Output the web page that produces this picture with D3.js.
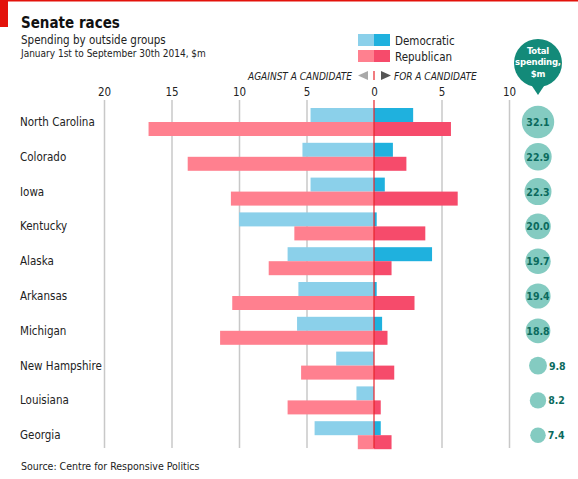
<!DOCTYPE html>
<html>
<head>
<meta charset="utf-8">
<script src="https://cdn.jsdelivr.net/npm/d3@7"></script>
<style>
  body { margin: 0; background: #fff; }
  svg text { font-family: "DejaVu Sans Condensed", "Liberation Sans", sans-serif; }
</style>
</head>
<body>
<div id="chart"></div>
<script>
// values, $m
var states = ['North Carolina', 'Colorado', 'Iowa', 'Kentucky', 'Alaska',
              'Arkansas', 'Michigan', 'New Hampshire', 'Louisiana', 'Georgia'];
var demAgainst = [4.7, 5.3, 4.7, 10.0, 6.4, 5.6, 5.7, 2.8, 1.3, 4.4];
var demFor     = [2.9, 1.4, 0.8, 0.2, 4.3, 0.2, 0.6, 0.0, 0.0, 0.5];
var repAgainst = [16.7, 13.8, 10.6, 5.9, 7.8, 10.5, 11.4, 5.4, 6.4, 1.2];
var repFor     = [5.7, 2.4, 6.2, 3.8, 1.3, 3.0, 1.0, 1.5, 0.5, 1.3];
var totals     = [32.1, 22.9, 22.3, 20.0, 19.7, 19.4, 18.8, 9.8, 8.2, 7.4];
var tickValues = [-20, -15, -10, -5, 0, 5, 10];

var width = 578,
    height = 479;

var colors = {
  demLight: '#8bd0ea', demDark: '#1fb1de',
  repLight: '#ff808f', repDark: '#f64b6b',
  zero: '#e8232b', grid: '#c8c8c8',
  teal: '#138a79', bubble: '#84cbc1', bubbleText: '#0b6a5d'
};

var svg = d3.select('#chart')
            .append('svg')
            .attr('width', width)
            .attr('height', height);

// top rule and red tab
svg.append('rect').attr('x', 0).attr('y', 0).attr('width', width).attr('height', 1.5).attr('fill', '#e3120b');
svg.append('rect').attr('x', 0).attr('y', 0).attr('width', 8).attr('height', 27).attr('fill', '#e3120b');

svg.append('text').attr('x', 21).attr('y', 28)
   .style('font-size', '15px').style('font-weight', 'bold').attr('fill', '#111')
   .text('Senate races');
svg.append('text').attr('x', 21).attr('y', 44)
   .style('font-size', '11.5px').attr('fill', '#222')
   .text('Spending by outside groups');
svg.append('text').attr('x', 21).attr('y', 57)
   .style('font-size', '10px').attr('fill', '#222')
   .text('January 1st to September 30th 2014, $m');

var xScale = d3.scaleLinear().domain([-20, 10]).range([104, 509]);
var yScale = d3.scaleBand().domain(states).range([104.6, 452.6]);
var barH = 14;
var rScale = d3.scaleSqrt().domain([0, d3.max(totals)]).range([0, 16.2]);

// gridlines + tick labels
var xAxis = d3.axisTop(xScale)
              .tickValues(tickValues)
              .tickSize(-348)
              .tickFormat(function(d) { return Math.abs(d); });

var axisG = svg.append('g')
               .attr('transform', 'translate(0,100)')
               .call(xAxis);
axisG.select('.domain').remove();
axisG.selectAll('.tick line')
     .attr('stroke', colors.grid)
     .attr('stroke-width', 1.5);
axisG.selectAll('.tick text')
     .attr('y', -4)
     .style('font-size', '11.5px')
     .style('font-family', '"DejaVu Sans Condensed", sans-serif')
     .attr('fill', '#222');
// zero line drawn on top of bars later
axisG.selectAll('.tick').filter(function(d) { return d === 0; }).select('line').remove();

// rows
var rows = svg.append('g').selectAll('g')
              .data(states)
              .enter()
              .append('g');

function midY(i) { return yScale(states[i]) + yScale.bandwidth() / 2; }

rows.append('text')
    .attr('x', 20)
    .attr('y', function(d, i) { return midY(i) + 4; })
    .style('font-size', '11.5px')
    .attr('fill', '#222')
    .text(function(d) { return d; });

rows.append('rect')
    .attr('x', function(d, i) { return xScale(-demAgainst[i]); })
    .attr('y', function(d, i) { return midY(i) - barH; })
    .attr('width', function(d, i) { return xScale(0) - xScale(-demAgainst[i]); })
    .attr('height', barH)
    .attr('fill', colors.demLight);
rows.append('rect')
    .attr('x', xScale(0))
    .attr('y', function(d, i) { return midY(i) - barH; })
    .attr('width', function(d, i) { return xScale(demFor[i]) - xScale(0); })
    .attr('height', barH)
    .attr('fill', colors.demDark);
rows.append('rect')
    .attr('x', function(d, i) { return xScale(-repAgainst[i]); })
    .attr('y', function(d, i) { return midY(i); })
    .attr('width', function(d, i) { return xScale(0) - xScale(-repAgainst[i]); })
    .attr('height', barH)
    .attr('fill', colors.repLight);
rows.append('rect')
    .attr('x', xScale(0))
    .attr('y', function(d, i) { return midY(i); })
    .attr('width', function(d, i) { return xScale(repFor[i]) - xScale(0); })
    .attr('height', barH)
    .attr('fill', colors.repDark);

// zero line
svg.append('line')
   .attr('x1', xScale(0)).attr('x2', xScale(0))
   .attr('y1', 100).attr('y2', 448)
   .attr('stroke', colors.zero).attr('stroke-width', 1.2);

// total spending bubbles
var bx = 538;
rows.append('circle')
    .attr('cx', bx)
    .attr('cy', function(d, i) { return midY(i); })
    .attr('r', function(d, i) { return rScale(totals[i]); })
    .attr('fill', colors.bubble);
rows.append('text')
    .attr('x', function(d, i) { return totals[i] >= 15 ? bx : bx + rScale(totals[i]) + 2; })
    .attr('y', function(d, i) { return midY(i) + 4; })
    .attr('text-anchor', function(d, i) { return totals[i] >= 15 ? 'middle' : 'start'; })
    .style('font-size', '10.5px').style('font-weight', 'bold')
    .attr('fill', colors.bubbleText)
    .text(function(d, i) { return totals[i].toFixed(1); });

// callout
var cx = 538, cy = 63, cr = 24;
svg.append('path')
   .attr('d', 'M' + (cx - 6) + ',' + (cy + cr - 1) + ' L' + cx + ',' + (cy + cr + 8) + ' L' + (cx + 6) + ',' + (cy + cr - 1) + 'Z')
   .attr('fill', colors.teal);
svg.append('circle').attr('cx', cx).attr('cy', cy).attr('r', cr).attr('fill', colors.teal);
['Total', 'spending,', '$m'].forEach(function(t, i) {
  svg.append('text')
     .attr('x', cx).attr('y', 54 + i * 11.3)
     .attr('text-anchor', 'middle')
     .style('font-size', '9.5px').style('font-weight', 'bold')
     .style('letter-spacing', '-0.2px')
     .attr('fill', '#fff')
     .text(t);
});

// legend
var legend = [['Democratic', colors.demLight, colors.demDark], ['Republican', colors.repLight, colors.repDark]];
legend.forEach(function(l, i) {
  var y = 34 + i * 16;
  svg.append('rect').attr('x', 358).attr('y', y).attr('width', 16).attr('height', 12).attr('fill', l[1]);
  svg.append('rect').attr('x', 374).attr('y', y).attr('width', 16).attr('height', 12).attr('fill', l[2]);
  svg.append('text').attr('x', 395).attr('y', y + 11)
     .style('font-size', '11.5px').attr('fill', '#222').text(l[0]);
});

// against / for labels
svg.append('text').attr('x', 352).attr('y', 80).attr('text-anchor', 'end')
   .style('font-size', '10px').style('font-style', 'italic').attr('fill', '#222')
   .text('AGAINST A CANDIDATE');
svg.append('text').attr('x', 394).attr('y', 80)
   .style('font-size', '10px').style('font-style', 'italic').attr('fill', '#222')
   .text('FOR A CANDIDATE');
svg.append('path').attr('d', 'M358,75.5 L368,71 L368,80 Z').attr('fill', '#a9a9a9');
svg.append('path').attr('d', 'M391,75.5 L381,71 L381,80 Z').attr('fill', '#555');
svg.append('line').attr('x1', xScale(0)).attr('x2', xScale(0)).attr('y1', 71).attr('y2', 80)
   .attr('stroke', colors.zero).attr('stroke-width', 1.2);

svg.append('text').attr('x', 21).attr('y', 470)
   .style('font-size', '10.5px').attr('fill', '#222')
   .text('Source: Centre for Responsive Politics');
</script>
</body>
</html>
